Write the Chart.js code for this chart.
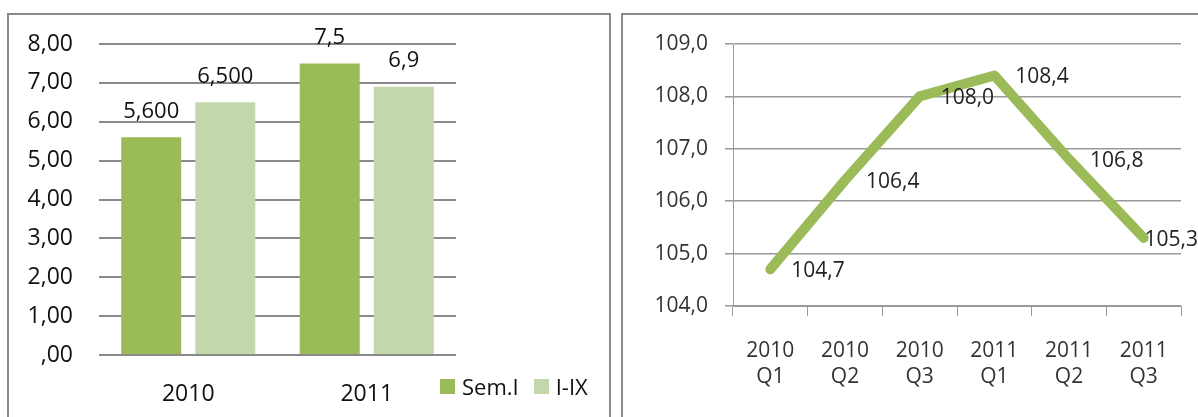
<!DOCTYPE html>
<html>
<head>
<meta charset="utf-8">
<script src="https://cdn.jsdelivr.net/npm/chart.js@4.4.0/dist/chart.umd.min.js"></script>
<style>
    html, body {
        margin: 0;
        padding: 0;
        background: #ffffff;
        width: 1198px;
        height: 417px;
        overflow: hidden;
    }

    .panel {
        position: absolute;
        border: 2px solid #8a8a8a;
        background: #ffffff;
        height: 420px;
    }

    #left { left: 7px; top: 13px; width: 600px; }
    #right { left: 621px; top: 13px; width: 600px; }

    .wrap { position: relative; height: 420px; }
    #left .wrap { width: 600px; }
    #right .wrap { width: 575px; }

    .legend {
        position: absolute;
        left: 431px;
        top: 356px;
        display: flex;
        align-items: center;
        font: 22px "Open Sans";
        color: #111111;
    }

    .legend .box {
        display: inline-block;
        width: 15px;
        height: 15px;
        margin-right: 7px;
    }

    .legend .item { display: flex; align-items: center; margin-right: 15px; }
</style>
</head>
<body>
<div class="panel" id="left">
    <div class="wrap"><canvas id="bars"></canvas></div>
    <div class="legend" id="legend"></div>
</div>
<div class="panel" id="right">
    <div class="wrap"><canvas id="line"></canvas></div>
</div>

<script>
// left chart data
const years = ['2010', '2011'];
const semI = [5.6, 7.5];
const ixMonths = [6.5, 6.9];
const semILabels = ['5,600', '7,5'];
const ixLabels = ['6,500', '6,9'];
const leftTicks = [',00', '1,00', '2,00', '3,00', '4,00', '5,00', '6,00', '7,00', '8,00'];

// right chart data
const quarters = [['2010', 'Q1'], ['2010', 'Q2'], ['2010', 'Q3'], ['2011', 'Q1'], ['2011', 'Q2'], ['2011', 'Q3']];
const index = [104.7, 106.4, 108.0, 108.4, 106.8, 105.3];
const rightTicks = ['104,0', '105,0', '106,0', '107,0', '108,0', '109,0'];

const GREEN = '#9bbb59';
const LIGHT = '#c4d7ab';

Chart.defaults.font.family = '"Open Sans"';
Chart.defaults.color = '#111111';

const barLabels = {
    id: 'barLabels',
    afterDatasetsDraw(chart) {
        const ctx = chart.ctx;
        ctx.save();
        ctx.font = '22px "Open Sans"';
        ctx.fillStyle = '#111111';
        ctx.textAlign = 'center';
        ctx.textBaseline = 'middle';
        chart.data.datasets.forEach((ds, i) => {
            chart.getDatasetMeta(i).data.forEach((bar, j) => {
                ctx.fillText(ds.valueLabels[j], bar.x, bar.y - 26);
            });
        });
        ctx.restore();
    }
};

const lineLabels = {
    id: 'lineLabels',
    afterDatasetsDraw(chart) {
        const ctx = chart.ctx;
        ctx.save();
        ctx.font = '21px "Open Sans"';
        ctx.fillStyle = '#222222';
        ctx.textAlign = 'left';
        ctx.textBaseline = 'middle';
        const ds = chart.data.datasets[0];
        chart.getDatasetMeta(0).data.forEach((pt, j) => {
            const text = ds.data[j].toFixed(1).replace('.', ',');
            const w = ctx.measureText(text).width;
            let x = pt.x + 21;
            if (x + w > chart.width) x = chart.width - w;
            ctx.fillText(text, x, pt.y + 2);
        });
        ctx.restore();
    }
};

new Chart(document.getElementById('bars'), {
    type: 'bar',
    data: {
        labels: years,
        datasets: [
            { label: 'Sem.I', data: semI, valueLabels: semILabels, backgroundColor: GREEN },
            { label: 'I-IX', data: ixMonths, valueLabels: ixLabels, backgroundColor: LIGHT }
        ]
    },
    options: {
        responsive: true,
        maintainAspectRatio: false,
        animation: false,
        categoryPercentage: 0.83,
        barPercentage: 0.81,
        layout: { padding: { left: 0, right: 153, top: 29, bottom: 0 } },
        plugins: { legend: { display: false }, tooltip: { enabled: false } },
        scales: {
            x: {
                grid: { display: false },
                border: { display: false },
                ticks: { font: { size: 23 }, color: '#111111', padding: 18 },
                afterFit: scale => { scale.height = 80; }
            },
            y: {
                min: 0,
                max: 8,
                ticks: {
                    stepSize: 1,
                    padding: 2,
                    font: { size: 23, lineHeight: 1 },
                    color: '#111111',
                    callback: (v, i) => leftTicks[i]
                },
                // invisible tick marks keep the labels off the grid
                grid: { color: '#8a8a8a', lineWidth: 2, drawTicks: true, tickLength: 24, tickColor: 'rgba(0,0,0,0)' },
                border: { display: false },
                afterFit: scale => { scale.width = 90; }
            }
        }
    },
    plugins: [barLabels]
});

// html legend built from the same series names
document.getElementById('legend').innerHTML = [['Sem.I', GREEN], ['I-IX', LIGHT]]
    .map(([name, col]) => `<span class="item"><span class="box" style="background:${col}"></span>${name}</span>`)
    .join('');

new Chart(document.getElementById('line'), {
    type: 'line',
    data: {
        labels: quarters,
        datasets: [{
            data: index,
            borderColor: GREEN,
            borderWidth: 10,
            borderCapStyle: 'round',
            borderJoinStyle: 'round',
            pointRadius: 0,
            tension: 0
        }]
    },
    options: {
        responsive: true,
        maintainAspectRatio: false,
        animation: false,
        layout: { padding: { left: 0, right: 17, top: 29, bottom: 0 } },
        plugins: { legend: { display: false }, tooltip: { enabled: false } },
        scales: {
            x: {
                offset: true,
                grid: { offset: true, drawOnChartArea: false, drawTicks: true, tickLength: 10, color: '#9a9a9a' },
                border: { display: true, color: '#9a9a9a' },
                ticks: { font: { size: 21, lineHeight: 1.25 }, color: '#333333', padding: 22, maxRotation: 0 },
                afterFit: scale => { scale.height = 129; }
            },
            y: {
                min: 104,
                max: 109,
                ticks: {
                    stepSize: 1,
                    padding: 17,
                    font: { size: 21, lineHeight: 1 },
                    color: '#333333',
                    callback: (v, i) => rightTicks[i]
                },
                grid: { color: '#9a9a9a', lineWidth: 1.5, tickLength: 8 },
                border: { display: true, color: '#9a9a9a' },
                afterFit: scale => { scale.width = 110; }
            }
        }
    },
    plugins: [lineLabels]
});
</script>
</body>
</html>
